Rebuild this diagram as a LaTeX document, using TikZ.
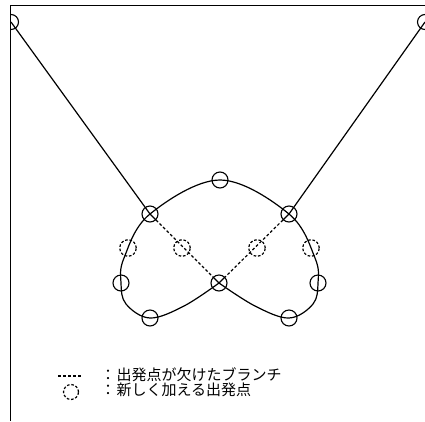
\documentclass[tikz,border=0pt]{standalone}
\usepackage{fontspec}
\newfontfamily\jpfont{Noto Sans CJK JP}
\begin{document}
\begin{tikzpicture}[x=1pt,y=-1pt,
  line width=1.2pt,
  pt/.style={circle,draw,line width=1.1pt,minimum size=16pt,inner sep=0pt},
  dpt/.style={circle,draw,line width=1.2pt,minimum size=16.5pt,inner sep=0pt,dash pattern=on 2.6pt off 1.8pt},
  branch/.style={line width=1.2pt,dash pattern=on 2.8pt off 2.2pt},
  jp/.style={font=\jpfont\fontsize{15pt}{15pt}\selectfont,inner sep=0pt,anchor=west}]
\useasboundingbox (0,0) rectangle (425,421);
% frame
\draw[line width=1pt] (425,5) -- (10,5) -- (10,421);
% clipped end points at top corners
\begin{scope}
\clip (10,5) rectangle (425,421);
\node[pt,minimum size=15pt] (tl) at (11,22) {};
\node[pt,minimum size=15pt] (tr) at (425,22) {};
\end{scope}
% nodes on the loop
\node[pt] (t)  at (220,180) {};
\node[pt] (lx) at (150,214) {};
\node[pt] (rx) at (289,214) {};
\node[pt] (c)  at (219,283) {};
\node[pt] (l)  at (121,283) {};
\node[pt] (r)  at (318,283) {};
\node[pt] (bl) at (150,318) {};
\node[pt] (br) at (289,318) {};
% added start points
\node[dpt] (dl)  at (128,248) {};
\node[dpt] (dcl) at (182,248) {};
\node[dpt] (dcr) at (257,248) {};
\node[dpt] (dr)  at (311,248) {};
% incoming branches
\draw (tl.center) -- (lx.center);
\draw (tr.center) -- (rx.center);
% closed loop
\draw plot[smooth,tension=0.6] coordinates {(c.center) (184,306) (bl.center) (126,304) (l.center) (124,258) (lx.center) (t.center) (rx.center) (315,258) (r.center) (313,304) (br.center) (255,306) (c.center)};
% branches lacking start points
\draw[branch] (lx) -- (c);
\draw[branch] (rx) -- (c);
\draw (c.center) -- (c.north west);
\draw (c.center) -- (c.north east);
\draw (lx.center) -- (lx.south east);
\draw (rx.center) -- (rx.south west);
% legend
\coordinate (la) at (58,376);
\coordinate (lb) at (82,376);
\draw[branch] (la) -- (lb);
\node[jp] (k1) at (100,375) {：};
\node[jp] (t1) at (116,375) {出発点が欠けたブランチ};
\node[dpt,minimum size=15pt] (lc) at (71,392) {};
\node[jp] (k2) at (100,390) {：};
\node[jp] (t2) at (116,390) {新しく加える出発点};
\end{tikzpicture}
\end{document}
